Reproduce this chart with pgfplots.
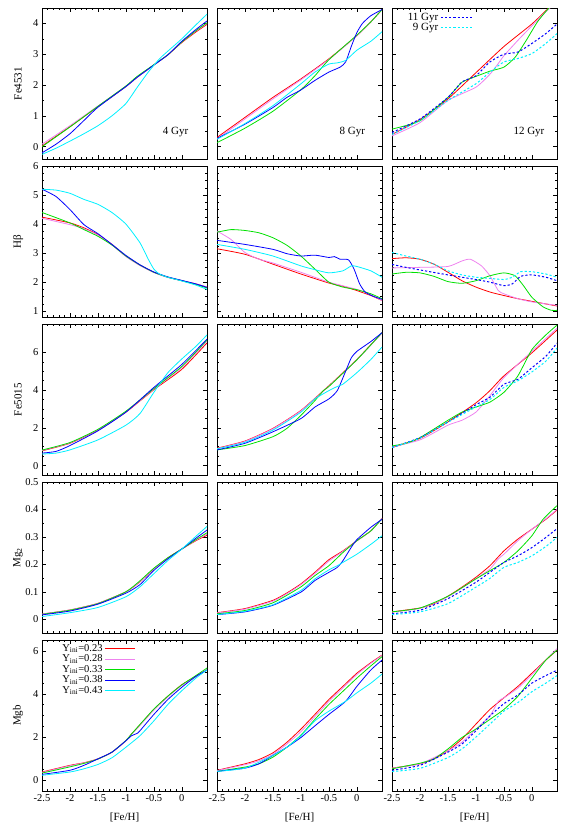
\documentclass[border=0pt]{standalone}
\usepackage{fontspec}
\setmainfont{Liberation Serif}
\usepackage{pgfplots}
\pgfplotsset{compat=1.18}
\usepgfplotslibrary{groupplots}

\definecolor{cRed}{RGB}{255,0,0}
\definecolor{cVio}{RGB}{238,130,238}
\definecolor{cGrn}{RGB}{0,225,0}
\definecolor{cBlu}{RGB}{0,0,255}
\definecolor{cCya}{RGB}{0,240,255}

\tikzset{
  gyr/.style={font=\fontsize{11}{12}\selectfont},
  sR/.style={draw=cRed},
  sV/.style={draw=cVio},
  sG/.style={draw=cGrn},
  sB/.style={draw=cBlu},
  sC/.style={draw=cCya},
  dB/.style={draw=cBlu, line width=1pt, dash pattern=on 2.2pt off 2pt},
  dC/.style={draw=cCya, line width=1pt, dash pattern=on 2.2pt off 2pt},
}

\pgfplotsset{
  panel/.style={
    width=165pt, height=151pt, scale only axis,
    xmin=-2.5, xmax=0.45,
    xtick={-2.5,-2,...,0}, minor x tick num=4,
    tick align=inside, tick pos=both,
    major tick length=4pt, minor tick length=2pt,
    every tick/.style={black, line width=0.5pt},
    axis line style={line width=0.9pt},
    /pgf/number format/assume math mode=true,
    /pgf/number format/fixed,
    ticklabel style={font=\fontsize{10.5}{12}\selectfont},
    label style={font=\fontsize{11}{12}\selectfont},
    ylabel style={at={(axis description cs:-0.145,0.5)}, anchor=center},
    xlabel style={at={(axis description cs:0.5,-0.175)}, anchor=center},
    smooth, tension=0.35,
    no markers,
    every axis plot/.append style={line width=0.8pt},
  },
  rowFe/.style={ymin=-0.4, ymax=4.5, ytick={0,1,2,3,4}, minor y tick num=1},
  rowHb/.style={ymin=0.8, ymax=6, ytick={1,2,3,4,5,6}, minor y tick num=3},
  rowFf/.style={ymin=-0.5, ymax=7.5, ytick={0,2,4,6}, minor y tick num=3},
  rowMg/.style={ymin=-0.05, ymax=0.5, ytick={0,0.1,0.2,0.3,0.4,0.5}, minor y tick num=1},
  rowMb/.style={ymin=-0.5, ymax=6.5, ytick={0,2,4,6}, minor y tick num=3},
}

\begin{document}
\begin{tikzpicture}
\begin{groupplot}[
  group style={group size=3 by 5, horizontal sep=10pt, vertical sep=7pt,
    xticklabels at=edge bottom, yticklabels at=edge left},
  panel]

% ---------------- Fe4531 ----------------
\nextgroupplot[rowFe, ylabel={Fe4531}]
\addplot[sR] coordinates {(-2.5,0.02)(-2,0.65)(-1.5,1.3)(-1,1.95)(-0.8,2.25)(-0.5,2.65)(-0.25,2.98)(0,3.38)(0.25,3.72)(0.45,3.97)};
\addplot[sV] coordinates {(-2.5,0.08)(-2,0.68)(-1.5,1.32)(-1,1.96)(-0.8,2.25)(-0.5,2.65)(-0.25,2.98)(0,3.4)(0.25,3.75)(0.45,4.0)};
\addplot[sG] coordinates {(-2.5,0.0)(-2,0.64)(-1.5,1.31)(-1,1.97)(-0.8,2.28)(-0.5,2.66)(-0.25,2.98)(0,3.4)(0.25,3.76)(0.45,4.02)};
\addplot[sB] coordinates {(-2.5,-0.2)(-2.25,0.08)(-2,0.42)(-1.75,0.85)(-1.5,1.28)(-1,1.95)(-0.8,2.25)(-0.5,2.65)(-0.25,2.98)(0,3.42)(0.25,3.8)(0.45,4.08)};
\addplot[sC] coordinates {(-2.5,-0.25)(-2.25,-0.05)(-2,0.18)(-1.75,0.42)(-1.5,0.68)(-1.25,1.0)(-1,1.4)(-0.8,1.92)(-0.6,2.42)(-0.4,2.85)(-0.25,3.1)(0,3.5)(0.25,3.95)(0.45,4.3)};
\node[gyr] at (axis description cs:0.81,0.18) {4 Gyr};

\nextgroupplot[rowFe]
\addplot[sR] coordinates {(-2.5,0.3)(-2,0.95)(-1.5,1.6)(-1,2.2)(-0.5,2.85)(0,3.6)(0.25,4.05)(0.45,4.45)};
\addplot[sV] coordinates {(-2.5,0.25)(-2,0.9)(-1.5,1.55)(-1,2.17)(-0.5,2.83)(0,3.6)(0.25,4.05)(0.45,4.45)};
\addplot[sG] coordinates {(-2.5,0.13)(-2,0.6)(-1.5,1.15)(-1,1.85)(-0.75,2.3)(-0.5,2.82)(0,3.62)(0.25,4.05)(0.45,4.45)};
\addplot[sB] coordinates {(-2.5,0.27)(-2,0.73)(-1.5,1.27)(-1.25,1.6)(-1,1.84)(-0.75,2.15)(-0.5,2.42)(-0.3,2.58)(-0.2,2.75)(-0.1,3.25)(0,3.7)(0.1,4.0)(0.25,4.25)(0.45,4.45)};
\addplot[sC] coordinates {(-2.5,0.24)(-2,0.75)(-1.5,1.33)(-1,2.04)(-0.75,2.42)(-0.5,2.68)(-0.35,2.72)(-0.2,2.8)(0,3.13)(0.25,3.42)(0.45,3.73)};
\node[gyr] at (axis description cs:0.82,0.18) {8 Gyr};

\nextgroupplot[rowFe,
  legend style={draw=none, fill=none, at={(axis description cs:0.5,0.985)}, anchor=north east,
    font=\fontsize{11}{12}\selectfont, legend cell align=right, row sep=-3pt, inner sep=1pt},
  legend plot pos=right,
  legend image code/.code={\draw[#1] (0pt,0pt) -- (32pt,0pt);}]
\addplot[sR, forget plot] coordinates {(-2.5,0.4)(-2,0.88)(-1.5,1.55)(-1,2.4)(-0.5,3.25)(0,3.98)(0.3,4.5)(0.45,4.75)};
\addplot[sV, forget plot] coordinates {(-2.5,0.35)(-2,0.78)(-1.5,1.5)(-1,1.93)(-0.75,2.35)(-0.6,2.7)(-0.5,2.95)(-0.25,3.45)(0,3.92)(0.25,4.38)(0.45,4.7)};
\addplot[sG, forget plot] coordinates {(-2.5,0.57)(-2,0.84)(-1.5,1.6)(-1.25,2.09)(-1,2.28)(-0.75,2.45)(-0.5,2.58)(-0.3,2.9)(-0.1,3.45)(0.1,4.05)(0.3,4.49)(0.45,4.75)};
\addplot[dB] coordinates {(-2.5,0.46)(-2,0.9)(-1.5,1.6)(-1.25,2.1)(-1,2.3)(-0.75,2.75)(-0.5,3.0)(-0.25,3.07)(0,3.35)(0.25,3.67)(0.45,3.98)};
\addlegendentry{11 Gyr}
\addplot[dC] coordinates {(-2.5,0.4)(-2,0.85)(-1.5,1.5)(-1,2.04)(-0.75,2.42)(-0.5,2.75)(-0.25,2.86)(0,3.02)(0.25,3.35)(0.45,3.67)};
\addlegendentry{9 Gyr}
\node[gyr] at (axis description cs:0.83,0.18) {12 Gyr};

% ---------------- Hbeta ----------------
\nextgroupplot[rowHb, ylabel={Hβ}]
\addplot[sR] coordinates {(-2.5,4.24)(-2,4.04)(-1.75,3.87)(-1.5,3.64)(-1.25,3.3)(-1,2.9)(-0.75,2.59)(-0.5,2.34)(-0.25,2.17)(0,2.05)(0.25,1.94)(0.45,1.83)};
\addplot[sV] coordinates {(-2.5,4.2)(-2,3.98)(-1.75,3.84)(-1.5,3.62)(-1.25,3.28)(-1,2.88)(-0.75,2.57)(-0.5,2.33)(-0.25,2.16)(0,2.05)(0.25,1.94)(0.45,1.83)};
\addplot[sG] coordinates {(-2.5,4.4)(-2,4.04)(-1.75,3.81)(-1.5,3.58)(-1.25,3.28)(-1,2.9)(-0.75,2.59)(-0.5,2.34)(-0.25,2.17)(0,2.05)(0.25,1.92)(0.45,1.8)};
\addplot[sB] coordinates {(-2.5,5.2)(-2.25,4.95)(-2,4.5)(-1.75,3.98)(-1.5,3.67)(-1.25,3.3)(-1,2.92)(-0.75,2.6)(-0.5,2.35)(-0.25,2.18)(0,2.06)(0.25,1.94)(0.45,1.82)};
\addplot[sC] coordinates {(-2.5,5.2)(-2.25,5.17)(-2,5.06)(-1.75,4.85)(-1.5,4.68)(-1.25,4.4)(-1,4.0)(-0.75,3.36)(-0.6,2.79)(-0.5,2.45)(-0.4,2.28)(-0.25,2.17)(0,2.04)(0.25,1.9)(0.45,1.75)};

\nextgroupplot[rowHb]
\addplot[sR] coordinates {(-2.5,3.15)(-2,2.96)(-1.5,2.62)(-1,2.28)(-0.5,1.97)(-0.25,1.86)(0,1.71)(0.25,1.54)(0.45,1.37)};
\addplot[sV] coordinates {(-2.5,3.76)(-2.25,3.47)(-2,3.02)(-1.75,2.79)(-1.5,2.66)(-1,2.34)(-0.5,2.0)(0,1.75)(0.25,1.56)(0.45,1.37)};
\addplot[sG] coordinates {(-2.5,3.72)(-2.25,3.81)(-2,3.78)(-1.75,3.7)(-1.5,3.53)(-1.25,3.27)(-1,2.9)(-0.75,2.45)(-0.5,2.0)(-0.25,1.83)(0,1.74)(0.25,1.6)(0.45,1.43)};
\addplot[sB] coordinates {(-2.5,3.44)(-2,3.3)(-1.5,3.13)(-1.25,2.98)(-1,2.9)(-0.75,2.93)(-0.5,2.85)(-0.4,2.88)(-0.3,2.79)(-0.15,2.77)(-0.05,2.45)(0.05,1.94)(0.15,1.66)(0.3,1.51)(0.45,1.41)};
\addplot[sC] coordinates {(-2.5,3.3)(-2,3.13)(-1.5,2.9)(-1,2.56)(-0.75,2.43)(-0.5,2.32)(-0.25,2.39)(-0.1,2.56)(0,2.54)(0.25,2.39)(0.45,2.17)};

\nextgroupplot[rowHb]
\addplot[sR] coordinates {(-2.5,2.81)(-2.25,2.84)(-2,2.79)(-1.75,2.62)(-1.5,2.34)(-1.25,2.05)(-1,1.83)(-0.75,1.66)(-0.5,1.54)(-0.25,1.43)(0,1.34)(0.25,1.25)(0.45,1.18)};
\addplot[sV] coordinates {(-2.5,2.49)(-2,2.51)(-1.5,2.54)(-1.25,2.73)(-1.1,2.79)(-0.9,2.56)(-0.75,2.22)(-0.6,1.71)(-0.5,1.6)(-0.25,1.43)(0,1.32)(0.45,1.2)};
\addplot[sG] coordinates {(-2.5,2.28)(-2.25,2.34)(-2,2.32)(-1.75,2.2)(-1.5,2.02)(-1.25,1.96)(-1,2.05)(-0.75,2.22)(-0.5,2.32)(-0.3,2.22)(-0.15,1.88)(0,1.48)(0.2,1.15)(0.35,1.03)(0.45,1.03)};
\addplot[dB] coordinates {(-2.5,2.61)(-2.25,2.51)(-2,2.42)(-1.5,2.25)(-1,2.09)(-0.75,2.0)(-0.5,1.88)(-0.35,1.94)(-0.2,2.2)(0,2.25)(0.25,2.17)(0.45,2.05)};
\addplot[dC] coordinates {(-2.5,3.02)(-2.25,2.9)(-2,2.79)(-1.75,2.62)(-1.5,2.39)(-1.25,2.25)(-1,2.17)(-0.75,2.13)(-0.5,2.09)(-0.35,2.17)(-0.2,2.36)(0,2.36)(0.25,2.28)(0.45,2.17)};

% ---------------- Fe5015 ----------------
\nextgroupplot[rowFf, ylabel={Fe5015}]
\addplot[sR] coordinates {(-2.5,0.78)(-2,1.18)(-1.5,1.88)(-1,2.83)(-0.5,4.02)(0,5.1)(0.45,6.5)};
\addplot[sV] coordinates {(-2.5,0.8)(-2,1.2)(-1.5,1.9)(-1,2.85)(-0.5,4.05)(0,5.2)(0.45,6.6)};
\addplot[sG] coordinates {(-2.5,0.82)(-2,1.22)(-1.5,1.92)(-1,2.88)(-0.5,4.08)(0,5.25)(0.45,6.65)};
\addplot[sB] coordinates {(-2.5,0.66)(-2.25,0.75)(-2,1.06)(-1.5,1.84)(-1,2.83)(-0.5,4.14)(0,5.36)(0.45,6.7)};
\addplot[sC] coordinates {(-2.5,0.61)(-2.25,0.66)(-2,0.83)(-1.5,1.36)(-1,2.14)(-0.75,2.75)(-0.5,3.88)(-0.25,4.92)(0,5.65)(0.25,6.31)(0.45,6.92)};

\nextgroupplot[rowFf]
\addplot[sR] coordinates {(-2.5,0.92)(-2,1.3)(-1.5,1.97)(-1,2.92)(-0.5,4.23)(0,5.62)(0.45,7.04)};
\addplot[sV] coordinates {(-2.5,0.9)(-2,1.28)(-1.5,1.95)(-1,2.9)(-0.5,4.21)(0,5.6)(0.45,7.02)};
\addplot[sG] coordinates {(-2.5,0.83)(-2,1.06)(-1.5,1.53)(-1.25,1.97)(-1,2.66)(-0.75,3.44)(-0.6,3.97)(-0.5,4.19)(0,5.6)(0.45,7.04)};
\addplot[sB] coordinates {(-2.5,0.83)(-2,1.18)(-1.5,1.79)(-1,2.49)(-0.75,3.1)(-0.5,3.53)(-0.35,3.97)(-0.2,5.0)(-0.1,5.7)(0,6.05)(0.25,6.57)(0.45,7.04)};
\addplot[sC] coordinates {(-2.5,0.89)(-2,1.23)(-1.5,1.88)(-1,2.83)(-0.75,3.53)(-0.5,3.97)(-0.35,4.19)(-0.25,4.31)(0,4.92)(0.25,5.62)(0.45,6.28)};

\nextgroupplot[rowFf]
\addplot[sR] coordinates {(-2.5,0.96)(-2,1.44)(-1.5,2.31)(-1,3.32)(-0.75,3.97)(-0.5,4.75)(0,5.97)(0.45,7.18)};
\addplot[sV] coordinates {(-2.5,0.99)(-2,1.36)(-1.5,2.14)(-1.25,2.4)(-1,2.83)(-0.75,3.7)(-0.5,4.66)(0,6.05)(0.45,7.27)};
\addplot[sG] coordinates {(-2.5,1.04)(-2.25,1.18)(-2,1.48)(-1.5,2.4)(-1.25,2.83)(-1,3.1)(-0.75,3.36)(-0.5,3.88)(-0.25,4.75)(0,6.14)(0.25,6.92)(0.45,7.44)};
\addplot[dB] coordinates {(-2.5,0.96)(-2,1.48)(-1.5,2.31)(-1,3.22)(-0.75,3.62)(-0.5,4.31)(-0.25,4.57)(0,5.18)(0.25,5.79)(0.45,6.49)};
\addplot[dC] coordinates {(-2.5,0.96)(-2,1.45)(-1.5,2.3)(-1,3.1)(-0.75,3.5)(-0.5,4.14)(-0.25,4.49)(0,4.96)(0.25,5.53)(0.45,6.23)};

% ---------------- Mg2 ----------------
\nextgroupplot[rowMg, ylabel={Mg\textsubscript{2}}]
\addplot[sR] coordinates {(-2.5,0.019)(-2,0.034)(-1.5,0.058)(-1,0.1)(-0.75,0.136)(-0.5,0.184)(-0.25,0.224)(0,0.256)(0.25,0.286)(0.45,0.306)};
\addplot[sV] coordinates {(-2.5,0.019)(-2,0.034)(-1.5,0.058)(-1,0.1)(-0.75,0.137)(-0.5,0.184)(-0.25,0.223)(0,0.256)(0.25,0.288)(0.45,0.31)};
\addplot[sG] coordinates {(-2.5,0.018)(-2,0.033)(-1.5,0.057)(-1,0.1)(-0.75,0.14)(-0.5,0.186)(-0.25,0.224)(0,0.256)(0.25,0.29)(0.45,0.315)};
\addplot[sB] coordinates {(-2.5,0.016)(-2,0.03)(-1.5,0.055)(-1,0.095)(-0.75,0.126)(-0.5,0.178)(-0.25,0.22)(0,0.256)(0.25,0.295)(0.45,0.325)};
\addplot[sC] coordinates {(-2.5,0.01)(-2,0.024)(-1.5,0.043)(-1,0.082)(-0.75,0.118)(-0.5,0.166)(-0.25,0.214)(0,0.256)(0.25,0.302)(0.45,0.338)};

\nextgroupplot[rowMg]
\addplot[sR] coordinates {(-2.5,0.024)(-2,0.039)(-1.5,0.069)(-1.25,0.096)(-1,0.129)(-0.75,0.171)(-0.5,0.217)(-0.25,0.249)(0,0.286)(0.25,0.322)(0.45,0.368)};
\addplot[sV] coordinates {(-2.5,0.023)(-2,0.037)(-1.5,0.066)(-1.25,0.093)(-1,0.126)(-0.75,0.167)(-0.5,0.212)(-0.25,0.247)(0,0.285)(0.25,0.322)(0.45,0.368)};
\addplot[sG] coordinates {(-2.5,0.02)(-2,0.032)(-1.5,0.06)(-1,0.118)(-0.75,0.159)(-0.5,0.195)(-0.25,0.243)(0,0.286)(0.25,0.322)(0.45,0.366)};
\addplot[sB] coordinates {(-2.5,0.017)(-2,0.027)(-1.5,0.051)(-1,0.099)(-0.75,0.141)(-0.5,0.171)(-0.35,0.189)(-0.25,0.213)(-0.1,0.262)(0,0.29)(0.25,0.335)(0.45,0.364)};
\addplot[sC] coordinates {(-2.5,0.017)(-2,0.029)(-1.5,0.053)(-1,0.105)(-0.75,0.147)(-0.5,0.18)(-0.35,0.195)(-0.25,0.207)(0,0.237)(0.25,0.273)(0.45,0.304)};

\nextgroupplot[rowMg]
\addplot[sR] coordinates {(-2.5,0.027)(-2,0.041)(-1.75,0.057)(-1.5,0.084)(-1.25,0.117)(-1,0.153)(-0.75,0.195)(-0.5,0.249)(-0.25,0.292)(0,0.328)(0.25,0.364)(0.45,0.398)};
\addplot[sV] coordinates {(-2.5,0.026)(-2,0.04)(-1.5,0.082)(-1,0.148)(-0.75,0.183)(-0.6,0.22)(-0.5,0.237)(-0.25,0.286)(0,0.328)(0.25,0.366)(0.45,0.4)};
\addplot[sG] coordinates {(-2.5,0.027)(-2,0.041)(-1.5,0.084)(-1,0.147)(-0.75,0.177)(-0.5,0.207)(-0.25,0.249)(0,0.304)(0.2,0.364)(0.45,0.414)};
\addplot[dB] coordinates {(-2.5,0.02)(-2,0.033)(-1.5,0.075)(-1,0.135)(-0.75,0.171)(-0.5,0.207)(-0.25,0.231)(0,0.261)(0.25,0.298)(0.45,0.33)};
\addplot[dC] coordinates {(-2.5,0.017)(-2,0.027)(-1.5,0.057)(-1,0.117)(-0.75,0.149)(-0.5,0.189)(-0.25,0.207)(0,0.231)(0.25,0.265)(0.45,0.298)};

% ---------------- Mgb ----------------
\nextgroupplot[rowMb, ylabel={Mgb}, xlabel={[Fe/H]},
  legend style={draw=none, fill=none, at={(axis description cs:0.57,0.99)}, anchor=north east,
    font=\fontsize{10.5}{11}\selectfont, legend cell align=right, row sep=-2pt, inner sep=0.5pt},
  legend plot pos=right,
  legend image code/.code={\draw[#1] (0pt,0pt) -- (30pt,0pt);}]
\addplot[sR] coordinates {(-2.5,0.38)(-2,0.69)(-1.75,0.81)(-1.5,0.99)(-1.25,1.3)(-1,1.83)(-0.9,2.14)(-0.75,2.56)(-0.5,3.28)(-0.25,3.89)(0,4.43)(0.25,4.81)(0.45,5.11)};
\addlegendentry{Y\textsubscript{ini}=0.23}
\addplot[sV] coordinates {(-2.5,0.36)(-2,0.67)(-1.75,0.8)(-1.5,0.98)(-1.25,1.29)(-1,1.82)(-0.9,2.12)(-0.75,2.54)(-0.5,3.25)(-0.25,3.86)(0,4.4)(0.25,4.8)(0.45,5.12)};
\addlegendentry{Y\textsubscript{ini}=0.28}
\addplot[sG] coordinates {(-2.5,0.33)(-2,0.62)(-1.75,0.78)(-1.5,0.98)(-1.25,1.3)(-1,1.84)(-0.9,2.14)(-0.75,2.58)(-0.5,3.3)(-0.25,3.9)(0,4.42)(0.25,4.85)(0.45,5.2)};
\addlegendentry{Y\textsubscript{ini}=0.33}
\addplot[sB] coordinates {(-2.5,0.27)(-2,0.46)(-1.75,0.69)(-1.5,0.99)(-1.25,1.3)(-1,1.83)(-0.9,2.06)(-0.8,2.17)(-0.75,2.29)(-0.5,3.05)(-0.25,3.74)(0,4.31)(0.25,4.81)(0.45,5.11)};
\addlegendentry{Y\textsubscript{ini}=0.38}
\addplot[sC] coordinates {(-2.5,0.23)(-2,0.38)(-1.75,0.53)(-1.5,0.73)(-1.25,1.04)(-1,1.53)(-0.75,2.06)(-0.5,2.75)(-0.25,3.51)(0,4.15)(0.25,4.73)(0.45,5.11)};
\addlegendentry{Y\textsubscript{ini}=0.43}

\nextgroupplot[rowMb, xlabel={[Fe/H]}]
\addplot[sR] coordinates {(-2.5,0.46)(-2,0.76)(-1.75,0.96)(-1.5,1.27)(-1.25,1.76)(-1,2.37)(-0.75,3.05)(-0.5,3.74)(-0.25,4.35)(0,4.96)(0.25,5.45)(0.45,5.8)};
\addplot[sV] coordinates {(-2.5,0.45)(-2,0.72)(-1.75,0.9)(-1.5,1.2)(-1.25,1.68)(-1,2.25)(-0.75,2.95)(-0.5,3.65)(-0.25,4.28)(0,4.9)(0.25,5.42)(0.45,5.78)};
\addplot[sG] coordinates {(-2.5,0.41)(-2,0.61)(-1.75,0.76)(-1.5,1.07)(-1.25,1.53)(-1,2.09)(-0.75,2.82)(-0.5,3.51)(-0.25,4.12)(0,4.73)(0.25,5.3)(0.45,5.73)};
\addplot[sB] coordinates {(-2.5,0.41)(-2,0.56)(-1.75,0.76)(-1.5,1.15)(-1.25,1.53)(-1,1.98)(-0.75,2.52)(-0.5,3.05)(-0.2,3.66)(0,4.35)(0.25,5.11)(0.45,5.57)};
\addplot[sC] coordinates {(-2.5,0.41)(-2,0.56)(-1.5,1.15)(-1.25,1.53)(-1,2.06)(-0.75,2.75)(-0.5,3.2)(-0.2,3.66)(0,4.05)(0.25,4.5)(0.45,4.92)};

\nextgroupplot[rowMb, xlabel={[Fe/H]}]
\addplot[sR] coordinates {(-2.5,0.56)(-2,0.76)(-1.75,0.99)(-1.5,1.37)(-1.25,1.91)(-1,2.6)(-0.75,3.28)(-0.5,3.82)(-0.25,4.35)(0,4.96)(0.25,5.57)(0.45,6.03)};
\addplot[sV] coordinates {(-2.5,0.56)(-2,0.76)(-1.5,1.37)(-1.25,1.76)(-1,2.37)(-0.75,2.98)(-0.6,3.66)(-0.5,3.82)(-0.25,4.27)(0,4.89)(0.25,5.57)(0.45,6.1)};
\addplot[sG] coordinates {(-2.5,0.53)(-2,0.79)(-1.75,0.99)(-1.5,1.45)(-1.25,1.98)(-1,2.37)(-0.75,2.82)(-0.5,3.28)(-0.25,3.89)(0,4.73)(0.25,5.57)(0.45,6.03)};
\addplot[dB] coordinates {(-2.5,0.46)(-2,0.69)(-1.5,1.3)(-1.25,1.68)(-1,2.29)(-0.75,2.98)(-0.5,3.55)(-0.25,3.95)(0,4.5)(0.25,4.85)(0.45,5.1)};
\addplot[dC] coordinates {(-2.5,0.4)(-2,0.55)(-1.5,1.05)(-1.25,1.45)(-1,2.0)(-0.75,2.6)(-0.5,3.2)(-0.25,3.6)(0,4.1)(0.25,4.5)(0.45,4.85)};
\end{groupplot}
\pgfresetboundingbox
\path ([shift={(-42pt,8pt)}]group c1r1.north west) rectangle ([shift={(5pt,-32pt)}]group c3r5.south east);
\end{tikzpicture}
\end{document}
